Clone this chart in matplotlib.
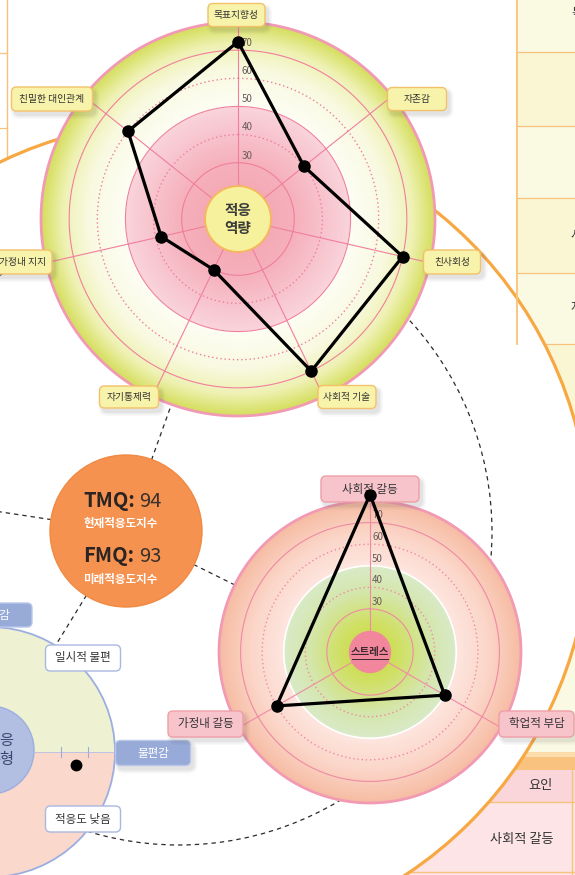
import numpy as np
import matplotlib
matplotlib.use("Agg")
import matplotlib.pyplot as plt
from matplotlib.patches import Circle, Wedge, FancyBboxPatch, Rectangle
from matplotlib.colors import LinearSegmentedColormap

plt.rcParams["font.family"] = ["Noto Sans CJK KR", "DejaVu Sans"]

# ---------------- data ----------------
competency_labels = ["목표지향성", "자존감", "친사회성", "사회적 기술",
                     "자기통제력", "가정내 지지", "친밀한 대인관계"]
competency_scores = [73, 40, 70, 70, 30, 38, 60]

stress_labels = ["사회적 갈등", "학업적 부담", "가정내 갈등"]
stress_scores = [83, 50, 60]

ring_ticks = [30, 40, 50, 60, 70]
score_range = (10, 80)

tmq_score = 94
fmq_score = 93

type_labels = ["일시적 불편", "적응도 낮음", "불편감", "안정감"]
type_point = (0.52, -0.10)   # (position along discomfort band, adaptation offset)

factor_rows = ["요인", "사회적 갈등"]

# ---------------- canvas ----------------
W, H = 575, 875
fig = plt.figure(figsize=(W / 100, H / 100), dpi=100)
ax0 = fig.add_axes([0, 0, 1, 1])
ax0.set_xlim(0, W)
ax0.set_ylim(H, 0)
ax0.axis("off")
PX = ax0.transData

TOP_C, TOP_R = (238, 219), 197
BOT_C, BOT_R = (370, 652), 151
TMQ_C, TMQ_R = (126, 531), 76
TYPE_C, TYPE_R = (-10, 752), 125
RING_C = (179, 532)

ORANGE = "#f7a843"
TABLE_LINE = "#f9c27c"

# ---- tables around the outer orange ring ----
row_edges = [-2, 52, 126, 198, 273, 344, 440]
row_fills = ["#fafae3", "#faf6d3"]
for i in range(len(row_edges) - 1):
    ax0.add_patch(Rectangle((517, row_edges[i]), 70, row_edges[i + 1] - row_edges[i],
                            fc=row_fills[i % 2], ec="none", zorder=1))
for y in row_edges[1:-1]:
    ax0.plot([517, 580], [y, y], color=TABLE_LINE, lw=0.9, zorder=1.1)
for y, s in [(13, "목표"), (236, "사회성"), (307, "자기")]:
    ax0.text(571, y, s, ha="left", va="center", fontsize=9, color="#333333", zorder=3)

# top-left table edge
ax0.plot([6.5, 6.5], [0, 170], color=TABLE_LINE, lw=1.0, zorder=1.1)
for y in (53, 128):
    ax0.plot([0, 6.5], [y, y], color=TABLE_LINE, lw=0.9, zorder=1.1)

# bottom-right table
ax0.add_patch(Rectangle((380, 600), 210, 152, fc="#fafae4", ec="none", zorder=1))
ax0.add_patch(Rectangle((380, 752), 210, 6, fc="#fcdcaa", ec="none", zorder=1))
ax0.add_patch(Rectangle((380, 757), 210, 13, fc="#f9c27f", ec="none", zorder=1))
ax0.add_patch(Rectangle((380, 770), 210, 32, fc="#fad6da", ec="none", zorder=1))
ax0.add_patch(Rectangle((380, 802), 210, 80, fc="#fde4e6", ec="none", zorder=1))
for y in (802, 872):
    ax0.plot([380, 580], [y, y], color=TABLE_LINE, lw=1.0, zorder=1.1)
ax0.plot([571.7, 571.7], [770, 880], color=TABLE_LINE, lw=1.0, zorder=1.1)

# outer orange ring (white inside)
ax0.add_patch(Circle(RING_C, 411, fc="white", ec=ORANGE, lw=2.3, zorder=2))
ax0.plot([517, 517], [0, 344], color=TABLE_LINE, lw=1.3, zorder=2.5)
ax0.text(540, 786, factor_rows[0], ha="center", va="center", fontsize=9.5, color="#333333", zorder=3)
ax0.text(522, 839, factor_rows[1], ha="center", va="center", fontsize=9.5, color="#333333", zorder=3)

# dashed connector circle and spokes from the index bubble
DASH = dict(color="#2a2a2a", lw=0.9, ls=(0, (3.5, 3.2)), zorder=3)
ax0.add_patch(Circle(RING_C, 313, fill=False, ec=DASH["color"], lw=DASH["lw"],
                     ls=DASH["ls"], zorder=3))
for tx, ty in [TOP_C, BOT_C, TYPE_C, (-150, 489)]:
    ax0.plot([TMQ_C[0], tx], [TMQ_C[1], ty], **DASH)

# index bubble
ax0.add_patch(Circle(TMQ_C, TMQ_R, fc="#f6924f", ec="#f08a44", lw=1.0, zorder=4))
ax0.text(83, 507, "TMQ:", fontsize=14.5, fontweight="bold", color="#2b2422",
         ha="left", va="baseline", zorder=5)
ax0.text(139, 507, f"{tmq_score}", fontsize=14.5, color="#3a302c",
         ha="left", va="baseline", zorder=5)
ax0.text(83, 523, "현재적응도지수", fontsize=8.3, fontweight="bold", color="white",
         ha="left", va="center", zorder=5)
ax0.text(83, 562, "FMQ:", fontsize=14.5, fontweight="bold", color="#2b2422",
         ha="left", va="baseline", zorder=5)
ax0.text(139, 562, f"{fmq_score}", fontsize=14.5, color="#3a302c",
         ha="left", va="baseline", zorder=5)
ax0.text(83, 580, "미래적응도지수", fontsize=8.3, fontweight="bold", color="white",
         ha="left", va="center", zorder=5)


def label_box(ax, center, size, text, fc, ec, tc, fs, z=5, shadow=True, lw=1.0):
    cx, cy = center
    w, h = size
    if shadow:
        for k, a in ((4, 0.035), (2.5, 0.05), (1, 0.07)):
            s = FancyBboxPatch((cx - w / 2 + 3 - k, cy - h / 2 + 4 - k), w + 2 * k, h + 2 * k,
                               boxstyle=f"round,pad=0,rounding_size={5 + k}",
                               fc="#505050", ec="none", alpha=a, transform=PX, zorder=z - 0.2)
            ax.add_artist(s)
            s.set_clip_on(False)
    b = FancyBboxPatch((cx - w / 2, cy - h / 2), w, h, boxstyle="round,pad=0,rounding_size=5",
                       fc=fc, ec=ec, lw=lw, transform=PX, zorder=z)
    ax.add_artist(b)
    b.set_clip_on(False)
    ax.text(cx, cy, text, transform=PX, ha="center", va="center", fontsize=fs,
            color=tc, zorder=z + 0.1)


# ---- adaptation type circle ----
tx, ty = TYPE_C
ax_t = fig.add_axes([(tx - TYPE_R) / W, (H - ty - TYPE_R) / H, 2 * TYPE_R / W, 2 * TYPE_R / H])
ax_t.set_xlim(-1, 1)
ax_t.set_ylim(-1, 1)
ax_t.axis("off")
ax_t.add_patch(Wedge((0, 0), 1, 0, 180, fc="#eef2d3", ec="none"))
ax_t.add_patch(Wedge((0, 0), 1, 180, 360, fc="#fbd8cc", ec="none"))
outline = Circle((0, 0), 1, fc="none", ec="#9cade0", lw=1.3)
ax_t.add_patch(outline)
outline.set_clip_on(False)
inner = 0.352
ax_t.plot([inner, 1], [0, 0], color="#b3c0e6", lw=0.6)
for f in (1 / 3, 2 / 3):
    xx = inner + (1 - inner) * f
    ax_t.plot([xx, xx], [-0.04, 0.04], color="#9cade0", lw=0.8)
ax_t.add_patch(Circle((0, 0.016), inner, fc="#b2bfe3", ec="#9cade0", lw=1.0))
ax_t.text(0.08, 0.016, "적응\n유형", ha="center", va="center", fontsize=11,
          color="#3d4670", linespacing=1.15)
ax_t.plot(inner + (1 - inner) * type_point[0], type_point[1], "o", color="black", ms=7.5)

label_box(ax_t, (83, 658), (75, 26), type_labels[0], "white", "#a9b8e2", "#333333", 8.3, shadow=False)
label_box(ax_t, (83, 819), (75, 26), type_labels[1], "white", "#a9b8e2", "#333333", 8.3, shadow=False)
label_box(ax_t, (153, 753), (75, 25), type_labels[2], "#98aad8", "#b9c6ea", "white", 8.3)
label_box(ax_t, (-6, 615), (76, 24), type_labels[3], "#98aad8", "#b9c6ea", "white", 8.3, shadow=False)


# ---- radar helpers ----
def make_radar(center, radius):
    cx, cy = center
    ax = fig.add_axes([(cx - radius) / W, (H - cy - radius) / H, 2 * radius / W, 2 * radius / H],
                      projection="polar")
    ax.set_theta_zero_location("N")
    ax.set_theta_direction(-1)
    ax.axis("off")
    return ax


def gradient_band(ax, r0, r1, colors):
    th = np.linspace(0, 2 * np.pi, 241)
    rr = np.linspace(r0, r1, 120)
    T, R = np.meshgrid(th, rr)
    cmap = LinearSegmentedColormap.from_list("band", colors)
    ax.pcolormesh(T, R, R, cmap=cmap, vmin=r0, vmax=r1, shading="gouraud", zorder=0)


TH = np.linspace(0, 2 * np.pi, 400)

# ---- top radar: 적응 역량 ----
axA = make_radar(TOP_C, TOP_R)
gradient_band(axA, 10, 50, [(0, "#f3a2ae"), (0.5, "#f5b0bb"), (1, "#f9d4dc")])
gradient_band(axA, 50, 80, [(0, "#fdfdf4"), (0.45, "#f8f9e0"), (0.75, "#eef1b2"), (1, "#d5de5e")])
for v in ring_ticks:
    ls = "-" if v in (30, 50, 70) else (0, (1, 2))
    axA.plot(TH, np.full_like(TH, v), color="#f07f9d", lw=0.8 if ls == "-" else 1.0, ls=ls, zorder=1)
nA = len(competency_labels)
angA = np.arange(nA) * 2 * np.pi / nA
for a in angA:
    axA.plot([a, a], [10, 84], color="#f07f9d", lw=0.8, zorder=1, clip_on=False)
axA.plot(TH, np.full_like(TH, 80), color="#f29ab3", lw=2.0, zorder=2, clip_on=False)
axA.fill(TH, np.full_like(TH, 21.7), fc="#f6f19c", ec="none", zorder=3)
axA.plot(TH, np.full_like(TH, 21.7), color="#f5b85a", lw=1.3, zorder=3)
axA.text(0, 10, "적응\n역량", ha="center", va="center", fontsize=10.5, fontweight="bold",
         color="#3a3a3a", linespacing=1.2, zorder=4)
for v in ring_ticks:
    axA.annotate(str(v), xy=(0, v), xytext=(2.5, 1.5), textcoords="offset points",
                 ha="left", va="bottom", fontsize=7, color="#6a5a5a", zorder=4)
top_boxes = [((236.5, 15), (57, 23)), ((417, 99), (59, 23)), ((452, 262), (57, 24)),
             ((347, 397), (58, 23)), ((129, 397), (59, 22)), ((23, 262), (58, 24)),
             ((52, 99), (81, 24))]
for lab, (c, s) in zip(competency_labels, top_boxes):
    label_box(axA, c, s, lab, "#f8f3aa", "#f3c16a", "#333333", 7.0)
axA.plot(np.append(angA, angA[0]), np.append(competency_scores, competency_scores[0]),
         color="black", lw=2.3, zorder=6, clip_on=False)
axA.plot(angA, competency_scores, "o", color="black", ms=8, zorder=7, clip_on=False)
axA.set_ylim(*score_range)

# ---- bottom radar: 스트레스 ----
axB = make_radar(BOT_C, BOT_R)
gradient_band(axB, 10, 50, [(0, "#c8da3a"), (0.35, "#d0e065"), (0.7, "#d4e6aa"), (1, "#d9eac8")])
gradient_band(axB, 50, 80, [(0, "#fde6df"), (0.5, "#fbd6c9"), (1, "#f6bca3")])
for v in ring_ticks:
    if v == 50:
        axB.plot(TH, np.full_like(TH, v), color="white", lw=1.2, zorder=1)
    else:
        ls = "-" if v in (30, 70) else (0, (1, 2))
        axB.plot(TH, np.full_like(TH, v), color="#ef8aa3", lw=0.8 if ls == "-" else 1.0, ls=ls, zorder=1)
nB = len(stress_labels)
angB = np.arange(nB) * 2 * np.pi / nB
for a in angB:
    axB.plot([a, a], [10, 83], color="#ef8aa3", lw=0.8, zorder=1, clip_on=False)
axB.plot(TH, np.full_like(TH, 80), color="#f29ab3", lw=2.0, zorder=2, clip_on=False)
axB.fill(TH, np.full_like(TH, 19.8), fc="#f2869c", ec="none", zorder=3)
axB.text(0, 10, "스트레스", ha="center", va="center", fontsize=7.5, fontweight="bold",
         color="#3b2a2f", zorder=4)
axB.plot([352, 388], [659, 659], transform=PX, color="#3b2a2f", lw=0.7, zorder=4, clip_on=False)
for v in ring_ticks:
    axB.annotate(str(v), xy=(0, v), xytext=(1.5, 1.5), textcoords="offset points",
                 ha="left", va="bottom", fontsize=7, color="#6a5a5a", zorder=4)
bot_boxes = [((370, 489), (98, 26)), ((536.5, 724), (75, 26)), ((205.5, 724), (75, 26))]
for lab, (c, s) in zip(stress_labels, bot_boxes):
    label_box(axB, c, s, lab, "#f8c4cc", "#ef9ea8", "#333333", 8.3)
axB.plot(np.append(angB, angB[0]), np.append(stress_scores, stress_scores[0]),
         color="black", lw=2.3, zorder=6, clip_on=False)
axB.plot(angB, stress_scores, "o", color="black", ms=8, zorder=7, clip_on=False)
axB.set_ylim(*score_range)

fig.savefig("out.png", dpi=100)
